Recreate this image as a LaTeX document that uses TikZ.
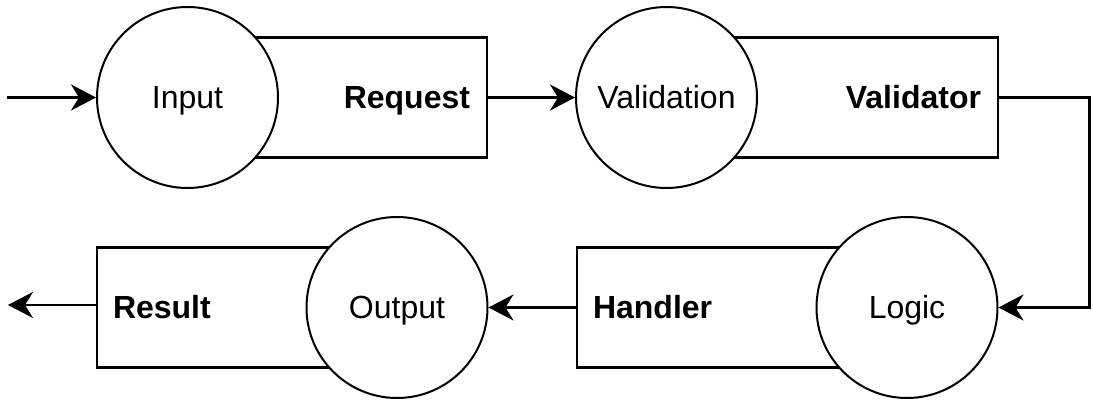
\documentclass[tikz,border=0pt]{standalone}
\usepackage{fontspec}
\setmainfont{Liberation Sans}
\usetikzlibrary{arrows.meta}
\begin{document}
\begin{tikzpicture}[x=1pt,y=-1pt,
  font=\fontsize{32}{38}\selectfont,
  circ/.style={circle,draw,fill=white,line width=2pt,minimum size=181pt,inner sep=0pt,text height=23pt,text depth=0pt},
  boxR/.style={draw,line width=2.6pt,minimum height=120pt,inner xsep=17pt,align=right,text height=23pt,text depth=0pt,font=\fontsize{32}{38}\selectfont\bfseries},
  boxL/.style={draw,line width=2.6pt,minimum height=120pt,inner xsep=16pt,align=left,text height=23pt,text depth=0pt,font=\fontsize{32}{38}\selectfont\bfseries},
  arr/.style={line width=2.6pt,-{Stealth[length=25pt,width=26pt,inset=8pt]}}]
\useasboundingbox (0,0) rectangle (1093,403);
% boxes
\node[boxR,text width=265pt] (request) at (337.5,97.5) {Request};
\node[boxR,text width=297pt] (validator) at (832.5,97.5) {Validator};
\node[boxL,text width=298pt] (handler) at (742,307.5) {Handler};
\node[boxL,text width=268pt] (result) at (247,307.5) {Result};
% circles
\node[circ] (input) at (187.5,97.5) {Input};
\node[circ] (validation) at (666.5,97.5) {Validation};
\node[circ] (logic) at (907,307.5) {Logic};
\node[circ] (output) at (397,307.5) {Output};
% free ends
\coordinate (start) at (7,97.5);
\coordinate (finish) at (8,305);
% connectors
\draw[arr] (start) -- (input.west);
\draw[arr] (request.east) -- (validation.west);
\draw[arr] (validator.east) -- ([xshift=90pt]validator.east) |- (logic.east);
\draw[arr] (handler.west) -- (output.east);
\draw[arr] (result.west |- finish) -- (finish);
\end{tikzpicture}
\end{document}
